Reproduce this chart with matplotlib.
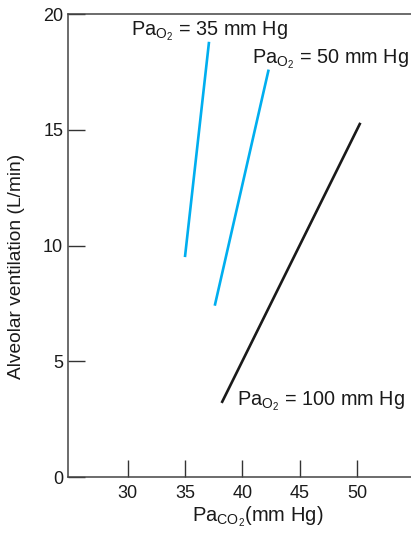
import matplotlib
matplotlib.use("Agg")
import matplotlib.pyplot as plt

plt.rcParams['font.family'] = ['Liberation Sans', 'DejaVu Sans']
plt.rcParams['mathtext.fontset'] = 'custom'
plt.rcParams['mathtext.rm'] = 'Liberation Sans'
plt.rcParams['mathtext.it'] = 'Liberation Sans'

# Data
pa_o2_labels = ["35", "50", "100"]
paco2_35 = [35.0, 37.1]
vent_35 = [9.5, 18.8]
paco2_50 = [37.6, 42.3]
vent_50 = [7.4, 17.6]
paco2_100 = [38.2, 50.3]
vent_100 = [3.2, 15.3]
x_ticks = [30, 35, 40, 45, 50]
y_ticks = [0, 5, 10, 15, 20]

fig = plt.figure(figsize=(4.11, 5.35), dpi=100)
ax = fig.add_axes([0.1655, 0.1084, 0.834, 0.8654])

blue = "#00aeef"
ax.plot(paco2_35, vent_35, color=blue, lw=1.9, solid_capstyle='butt')
ax.plot(paco2_50, vent_50, color=blue, lw=1.9, solid_capstyle='butt')
ax.plot(paco2_100, vent_100, color="#1a1a1a", lw=1.9, solid_capstyle='butt')

ax.set_xlim(24.8, 54.7)
ax.set_ylim(0, 20)
ax.set_xticks(x_ticks)
ax.set_yticks(y_ticks)
ax.tick_params(direction='in', length=12, width=1.0, color='#333333',
               labelsize=13, labelcolor='#1a1a1a')
ax.tick_params(axis='x', pad=6)
ax.tick_params(axis='y', pad=3.5)

for s in ['left', 'bottom', 'top']:
    ax.spines[s].set_color('#444444')
    ax.spines[s].set_linewidth(1.1)
ax.spines['right'].set_visible(False)

def lab(v):
    return r'Pa$_{\mathrm{O_2}}$ = ' + v + ' mm Hg'

ax.text(30.26, 19.09, lab(pa_o2_labels[0]), fontsize=14.3, ha='left', va='baseline', color='#1a1a1a')
ax.text(40.84, 17.88, lab(pa_o2_labels[1]), fontsize=14.3, ha='left', va='baseline', color='#1a1a1a')
ax.text(39.54, 3.11, lab(pa_o2_labels[2]), fontsize=14.3, ha='left', va='baseline', color='#1a1a1a')

ax.set_xlabel(r'Pa$_{\mathrm{CO_2}}$(mm Hg)', fontsize=14.5, color='#1a1a1a')
ax.set_ylabel('Alveolar ventilation (L/min)', fontsize=13.8, color='#1a1a1a')
ax.xaxis.set_label_coords(0.553, -0.06)
ax.yaxis.set_label_coords(-0.125, 0.455)

fig.savefig("out.png", dpi=100)
